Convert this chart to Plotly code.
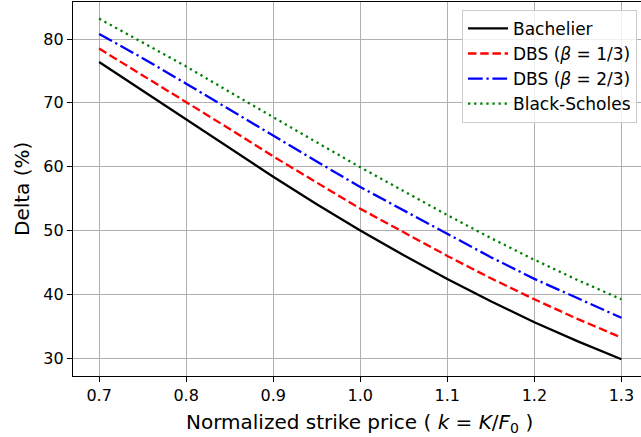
import plotly.graph_objects as go

strike = [0.70, 0.75, 0.80, 0.85, 0.90, 0.95, 1.00, 1.05, 1.10, 1.15, 1.20, 1.25, 1.30]
bachelier = [76.4, 71.9, 67.4, 62.9, 58.4, 54.1, 50.0, 46.1, 42.4, 38.9, 35.6, 32.6, 29.8]
dbs_1_3 = [78.5, 74.3, 70.2, 65.9, 61.6, 57.5, 53.4, 49.7, 46.0, 42.5, 39.2, 36.1, 33.2]
dbs_2_3 = [80.8, 77.0, 73.0, 68.9, 64.8, 60.8, 56.8, 53.1, 49.4, 45.8, 42.4, 39.3, 36.3]
black_scholes = [83.2, 79.5, 75.7, 71.7, 67.7, 63.8, 59.9, 56.1, 52.4, 48.8, 45.4, 42.2, 39.2]

x_ticks = [0.7, 0.8, 0.9, 1.0, 1.1, 1.2, 1.3]
x_tick_labels = ["0.7", "0.8", "0.9", "1.0", "1.1", "1.2", "1.3"]
y_ticks = [30, 40, 50, 60, 70, 80]

FONT = "DejaVu Sans"
LW = 2.3

series = [
    ("Bachelier", bachelier, "#000000", "solid"),
    ("DBS (<i>β</i> = 1/3)", dbs_1_3, "#ff0000", "8.5px,3.7px"),
    ("DBS (<i>β</i> = 2/3)", dbs_2_3, "#0000ff", "14.7px,3.7px,2.3px,3.7px"),
    ("Black-Scholes", black_scholes, "#008000", "2.3px,3.8px"),
]

fig = go.Figure()
for i, (name, vals, color, dash) in enumerate(series):
    fig.add_trace(go.Scatter(
        x=strike, y=vals, mode="lines", name=name, legendgroup=f"g{i}",
        line=dict(color=color, width=LW, dash=dash),
    ))

axis_common = dict(
    showgrid=True, gridcolor="#b0b0b0", gridwidth=1.3,
    showline=True, linecolor="#000000", linewidth=1.3,
    ticks="outside", ticklen=5, tickwidth=1.3, tickcolor="#000000",
    tickfont=dict(family=FONT, size=16, color="#000000"),
    zeroline=False, automargin=False,
)

fig.update_xaxes(range=[0.67, 1.3225], tickvals=x_ticks, ticktext=x_tick_labels,
                 mirror=True, **axis_common)
fig.update_yaxes(range=[27.18, 85.8], tickvals=y_ticks, **axis_common)

fig.update_layout(
    width=641, height=437,
    margin=dict(l=73, r=0, t=2, b=61, autoexpand=False),
    plot_bgcolor="#ffffff", paper_bgcolor="#ffffff",
    font=dict(family=FONT, color="#000000"),
    showlegend=True,
    legend=dict(
        x=0.993, y=0.979, xanchor="right", yanchor="top",
        bgcolor="rgba(255,255,255,0.8)", bordercolor="#cccccc", borderwidth=1,
        font=dict(family=FONT, size=17, color="#000000"),
        tracegroupgap=0, itemwidth=40,
    ),
    annotations=[
        dict(text="Normalized strike price ( <i>k</i> = <i>K</i>/<i>F</i><sub>0</sub> )",
             xref="paper", yref="paper", x=0.505, y=0, yshift=-32,
             xanchor="center", yanchor="top", showarrow=False,
             font=dict(family=FONT, size=20, color="#000000")),
        dict(text="Delta (%)", xref="paper", yref="paper", x=0, xshift=-51, y=0.5,
             xanchor="center", yanchor="middle", textangle=-90, showarrow=False,
             font=dict(family=FONT, size=20, color="#000000")),
    ],
)

fig.write_html("out.html", config={"displayModeBar": False},
               post_script="document.body.style.margin='0';document.body.style.overflow='hidden';")
